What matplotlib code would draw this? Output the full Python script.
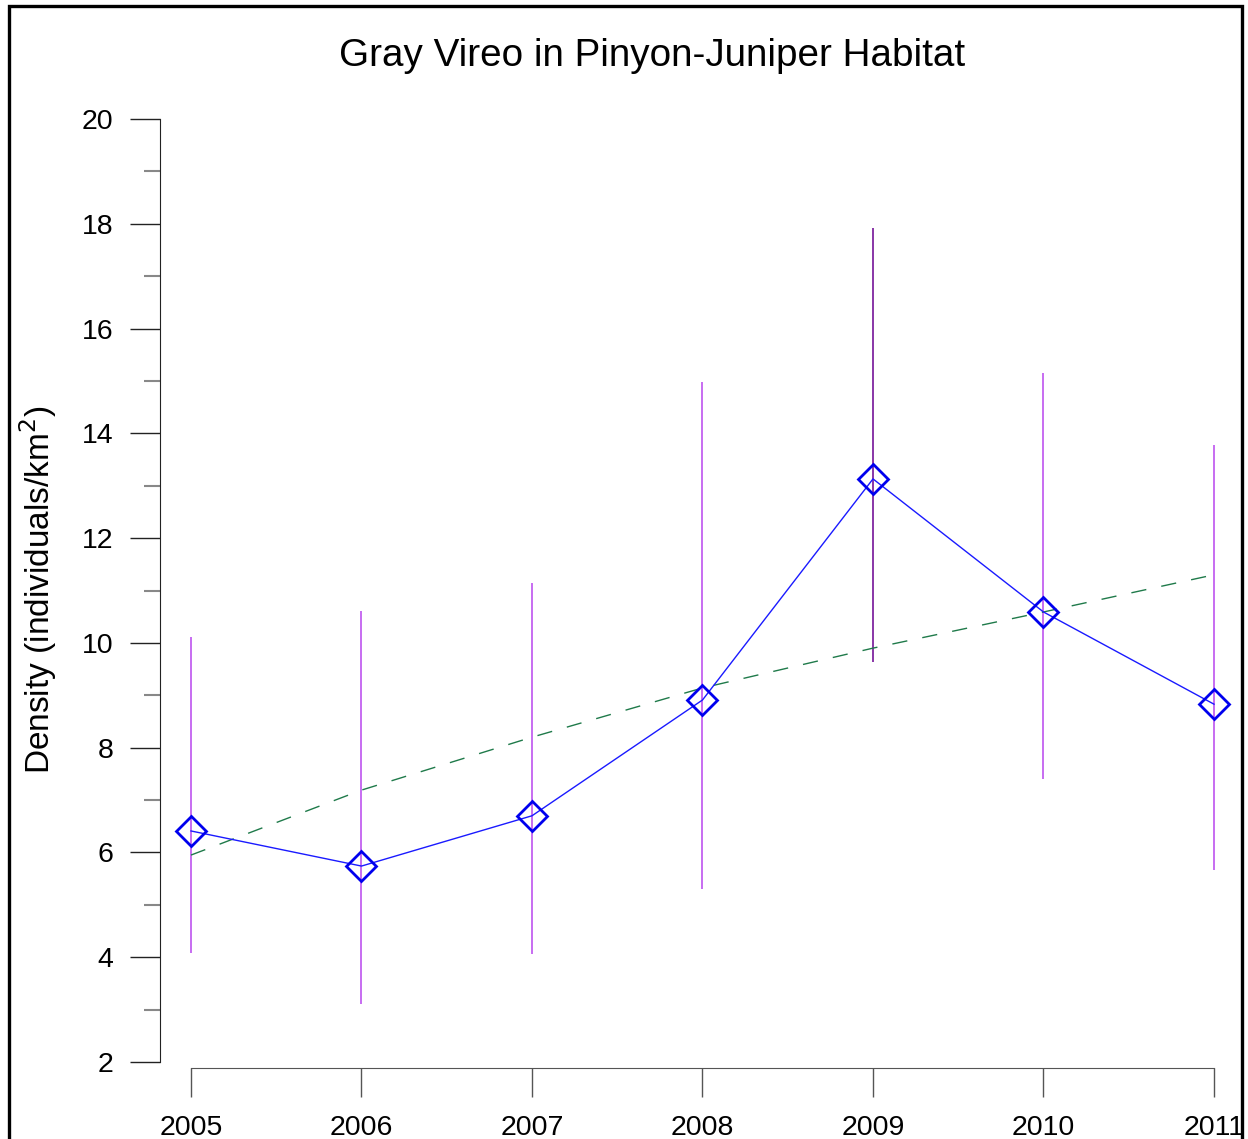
import numpy as np
import matplotlib
matplotlib.use('Agg')
import matplotlib.pyplot as plt
from matplotlib.patches import Rectangle

plt.rcParams['font.family'] = ['Liberation Sans', 'DejaVu Sans']

# data
years = [2005, 2006, 2007, 2008, 2009, 2010, 2011]
density = [6.41, 5.74, 6.70, 8.91, 13.13, 10.59, 8.83]
ci_low = [4.08, 3.11, 4.06, 5.30, 9.63, 7.40, 5.66]
ci_high = [10.11, 10.61, 11.14, 14.98, 17.92, 15.15, 13.78]
bar_colors = ['#b845ee', '#b845ee', '#b845ee', '#b845ee', '#6a0090', '#b845ee', '#b845ee']
trend_vals = [5.95, 7.19, 8.20, 9.14, 9.90, 10.59, 11.30]

W, H = 1248, 1139
fig = plt.figure(figsize=(W / 100, H / 100), dpi=100)
ax = fig.add_axes([160 / W, 1 - 1068 / H, (1232 - 160) / W, (1068 - 119) / H])

# error bars
ax.vlines(years, ci_low, ci_high, colors=bar_colors, lw=1.1, zorder=2)
# trend line
ax.plot(years, trend_vals, color='#1f7a4a', lw=1.0, linestyle=(0, (11, 11)), zorder=3)
# mean line + markers
ax.plot(years, density, color='#1a1aff', lw=1.0, zorder=4)
ax.plot(years, density, linestyle='none', marker='D', ms=15, mfc='none',
        mec='#0000ee', mew=2.0, zorder=5)

px_year = (1214 - 191) / 6
ax.set_xlim(2005 - 31 / px_year, 2011 + 18 / px_year)
px_unit = (1062 - 119) / 18
ax.set_ylim(2 - 6 / px_unit, 20)

ax.spines['top'].set_visible(False)
ax.spines['right'].set_visible(False)
ax.spines['left'].set_bounds(2, 20)
ax.spines['bottom'].set_bounds(2005, 2011)
ax.spines['left'].set_color('#222222')
ax.spines['bottom'].set_color('#555555')

ax.set_yticks(np.arange(2, 21, 2))
ax.set_yticks(np.arange(3, 20, 2), minor=True)
ax.set_xticks(years)
ax.tick_params(axis='y', which='major', length=21.6, width=1, color='#222222',
               labelsize=20.5, pad=12)
ax.tick_params(axis='y', which='minor', length=11.5, width=1.5, color='#888888')
ax.tick_params(axis='x', which='major', length=21, width=1, color='#555555',
               labelsize=20.5, pad=13)

fig.text(652 / W, 1 - 56 / H, 'Gray Vireo in Pinyon-Juniper Habitat',
         ha='center', va='center', fontsize=27.8)
fig.text(38 / W, 1 - 590 / H, 'Density (individuals/km$^2$)', rotation=90,
         ha='center', va='center', fontsize=24)

# outer frame
fig.patches.append(Rectangle((9 / W, -0.05), (1242 - 9) / W, 1.05 - 6 / H,
                             transform=fig.transFigure, fill=False,
                             edgecolor='black', lw=2.4))

fig.savefig('out.png', dpi=100)
